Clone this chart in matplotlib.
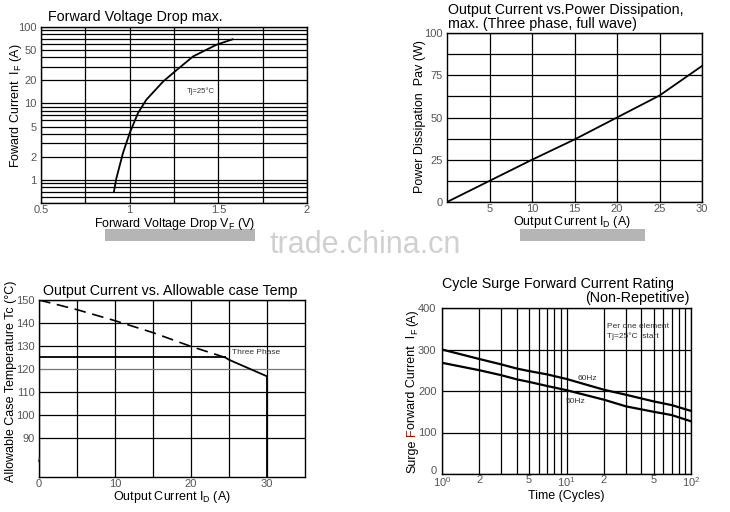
import matplotlib
matplotlib.use("Agg")
import matplotlib.pyplot as plt
from matplotlib.patches import Rectangle
from matplotlib.ticker import FixedLocator, NullFormatter, NullLocator

plt.rcParams['font.family'] = ['Liberation Sans', 'DejaVu Sans']
plt.rcParams['mathtext.fontset'] = 'custom'
plt.rcParams['mathtext.rm'] = 'Liberation Sans'

# ---------------- data ----------------
# Chart 1: forward voltage drop
fv_volt = [0.911, 0.925, 0.962, 1.0, 1.047, 1.094, 1.189, 1.255, 1.358, 1.49, 1.58]
fv_curr = [0.70, 1.05, 2.24, 4.1, 7.5, 11.2, 19.4, 26.2, 41.3, 58.7, 69.0]
fv_yticks = [1, 2, 5, 10, 20, 50, 100]
fv_xticks = [0.5, 1, 1.5, 2]

# Chart 2: power dissipation
pd_curr = [0, 5, 10, 15, 20, 25, 30]
pd_watt = [0, 12.5, 25, 37, 50, 63, 80.5]
pd_xticks = [5, 10, 15, 20, 25, 30]
pd_yticks = [0, 25, 50, 75, 100]

# Chart 3: allowable case temperature
tc_dash_curr = [0, 5, 10, 15, 20, 24.5]
tc_dash_temp = [150, 145.8, 141, 135.8, 129.8, 125]
tc_solid_curr = [24.5, 25, 30, 30]
tc_solid_temp = [125, 124, 116.8, 73]
tc_flat_curr = [0, 24.5]
tc_flat_temp = [125, 125]
tc_xticks = [0, 10, 20, 30]
tc_yticks = [90, 100, 110, 120, 130, 140, 150]

# Chart 4: surge current
cycles = [1, 2, 3, 4, 5, 7, 10, 20, 30, 50, 70, 100]
surge_60hz = [300, 277, 264, 254, 248, 240, 229, 203, 191, 175, 166, 152]
surge_50hz = [268, 250, 238, 228, 222, 212, 202, 179, 163, 150, 142, 127]
sg_xticks = [1, 2, 5, 10, 20, 50, 100]
sg_xlabels = ['$10^0$', '2', '5', '$10^1$', '2', '5', '$10^2$']
sg_yticks = [0, 100, 200, 300, 400]

W, H = 730, 512
fig = plt.figure(figsize=(W / 100, H / 100), dpi=100)


def ax_px(x0, y0, x1, y1):
    return fig.add_axes([x0 / W, 1 - y1 / H, (x1 - x0) / W, (y1 - y0) / H])


def fpx(x, y):
    return x / W, 1 - y / H


TICKC = '#555555'
TITLE_FS = 10.3
LABEL_FS = 9


def style(ax):
    for s in ax.spines.values():
        s.set_color('black')
        s.set_linewidth(1.0)
    ax.tick_params(which='both', length=0, labelsize=8, colors=TICKC, pad=3)
    ax.tick_params(axis='x', pad=1.5)


def vlabel(x, y, s):
    fig.text(*fpx(x, y), s, fontsize=LABEL_FS, rotation=90, ha='center', va='center')


# ---------------- Chart 1 ----------------
ax1 = ax_px(41, 27, 307, 203)
ax1.set_yscale('log')
ax1.set_xlim(0.5, 2)
ax1.set_ylim(0.5, 100)
ax1.yaxis.set_major_locator(FixedLocator(fv_yticks))
ax1.set_yticklabels([str(v) for v in fv_yticks])
ax1.yaxis.set_minor_locator(FixedLocator([k * 10 ** e for e in (-1, 0, 1) for k in range(1, 10)]))
ax1.yaxis.set_minor_formatter(NullFormatter())
ax1.set_xticks(fv_xticks)
ax1.set_xticklabels(['0.5', '1', '1.5', '2'])
ax1.xaxis.set_minor_locator(FixedLocator([0.75, 1.25, 1.75]))
ax1.grid(True, which='both', color='black', linewidth=0.9)
style(ax1)
ax1.plot(fv_volt, fv_curr, color='black', linewidth=1.3)
ax1.text(1.32, 14.4, 'Tj=25°C', fontsize=5.5, color='#333333', va='center')
vlabel(16, 106, 'Foward Current  I$_\\mathrm{F}$ (A)')
fig.text(*fpx(48, 17), 'Forward Voltage Drop max.', fontsize=TITLE_FS, va='center', ha='left')
fig.text(*fpx(175, 224), 'Forward Voltage Drop V$_\\mathrm{F}$ (V)', fontsize=LABEL_FS, va='center', ha='center')

# ---------------- Chart 2 ----------------
ax2 = ax_px(447, 33, 702, 202)
ax2.set_xlim(0, 30)
ax2.set_ylim(0, 100)
ax2.set_xticks(pd_xticks)
ax2.set_yticks(pd_yticks)
ax2.xaxis.set_minor_locator(NullLocator())
ax2.yaxis.set_minor_locator(FixedLocator([12.5, 37.5, 62.5, 87.5]))
ax2.grid(True, which='both', color='black', linewidth=0.9)
style(ax2)
ax2.plot(pd_curr, pd_watt, color='black', linewidth=1.3)
vlabel(420, 117, 'Power Dissipation  Pav (W)')
fig.text(*fpx(572, 222), 'Output Current I$_\\mathrm{D}$ (A)', fontsize=LABEL_FS, va='center', ha='center')
fig.text(*fpx(448, 10), 'Output Current vs.Power Dissipation,', fontsize=TITLE_FS, va='center', ha='left')
fig.text(*fpx(448, 24), 'max. (Three phase, full wave)', fontsize=TITLE_FS, va='center', ha='left')

# ---------------- Chart 3 ----------------
ax3 = ax_px(39, 300, 305, 477)
ax3.set_xlim(0, 35)
ax3.set_ylim(73, 150)
ax3.set_xticks(tc_xticks)
ax3.set_yticks(tc_yticks)
ax3.xaxis.set_minor_locator(FixedLocator([5, 15, 25]))
ax3.grid(True, which='both', color='black', linewidth=0.9)
for gl, v in zip(ax3.get_ygridlines(), tc_yticks):
    if v == 120:
        gl.set_color('#777777')
style(ax3)
ax3.plot(tc_dash_curr, tc_dash_temp, color='black', linewidth=1.2, linestyle=(0, (7, 4)))
ax3.plot(tc_solid_curr, tc_solid_temp, color='black', linewidth=1.3)
ax3.plot(tc_flat_curr, tc_flat_temp, color='black', linewidth=1.3)
ax3.text(25.4, 127.3, 'Three Phase', fontsize=6, color='#333333', va='center')
ax3.text(0.2, 81, '~', fontsize=8, rotation=90, ha='center', va='center', color='#333333')
vlabel(11, 381, 'Allowable Case Temperature Tc (°C)')
fig.text(*fpx(172, 497), 'Output Current I$_\\mathrm{D}$ (A)', fontsize=LABEL_FS, va='center', ha='center')
fig.text(*fpx(170, 291), 'Output Current vs. Allowable case Temp', fontsize=TITLE_FS, va='center', ha='center')

# ---------------- Chart 4 ----------------
ax4 = ax_px(442, 308, 691, 474)
ax4.set_xscale('log')
ax4.set_xlim(1, 100)
ax4.set_ylim(0, 400)
ax4.xaxis.set_major_locator(FixedLocator(sg_xticks))
ax4.set_xticklabels(sg_xlabels)
ax4.xaxis.set_minor_locator(FixedLocator([k * 10 ** e for e in (0, 1) for k in range(2, 10)]))
ax4.xaxis.set_minor_formatter(NullFormatter())
ax4.set_yticks(sg_yticks)
ax4.grid(True, which='both', color='black', linewidth=0.9)
style(ax4)
ax4.tick_params(axis='x', which='both', length=0, pad=1)
ax4.tick_params(axis='y', pad=4)
ax4.get_yticklabels()[0].set_verticalalignment('baseline')
ax4.plot(cycles, surge_60hz, color='black', linewidth=1.6)
ax4.plot(cycles, surge_50hz, color='black', linewidth=1.6)
ax4.text(14.6, 231, '60Hz', fontsize=6, color='#333333', va='center', ha='center')
ax4.text(11.8, 174, '50Hz', fontsize=6, color='#333333', va='center', ha='center')
ax4.text(21.3, 355, 'Per one element', fontsize=6, color='#333333', va='center')
ax4.text(21.3, 333, 'Tj=25°C  start', fontsize=6, color='#333333', va='center')
fig.text(*fpx(566, 496), 'Time (Cycles)', fontsize=LABEL_FS, va='center', ha='center')
fig.text(*fpx(442, 284), 'Cycle Surge Forward Current Rating', fontsize=TITLE_FS, va='center', ha='left')
fig.text(*fpx(690, 298), '(Non-Repetitive)', fontsize=TITLE_FS, va='center', ha='right')

# two-colour y label for chart 4, built from rotated plain-text pieces
r = fig.canvas.get_renderer()


def width_of(s, fs):
    t = fig.text(0, 0, s, fontsize=fs)
    w = t.get_window_extent(r).width
    t.remove()
    return w


def advance(s, fs):
    return width_of('x' + s + 'x', fs) - 2 * width_of('x', fs)


# (leading gap text, text, fontsize, colour, sideways shift in px: + = subscript)
sg_parts = [('', 'Surge', LABEL_FS, 'black', 0), (' ', 'F', LABEL_FS, '#8b1a00', 0),
            ('', 'orward Current  I', LABEL_FS, 'black', 0), ('', 'F', 6.3, 'black', 2.5),
            (' ', '(A)', LABEL_FS, 'black', 0)]
gaps = [advance(g, LABEL_FS) if g else 0 for g, _, _, _, _ in sg_parts]
advs = [advance(s, fs) for _, s, fs, _, _ in sg_parts]
lx, ly = 412, 391
pos = (H - ly) - (sum(gaps) + sum(advs)) / 2
for (g, s, fs, c, dx), gp, a in zip(sg_parts, gaps, advs):
    pos += gp
    fig.text((lx + dx) / W, pos / H, s, fontsize=fs, rotation=90,
             ha='center', va='bottom', color=c)
    pos += a

# ---------------- watermark ----------------
fig.text(*fpx(365, 245), 'trade.china.cn', fontsize=22, color='#d0d0d0', ha='center', va='center')
for x0, w in ((105, 150), (520, 125)):
    fig.patches.append(Rectangle((x0 / W, 1 - 241 / H), w / W, 12 / H, transform=fig.transFigure,
                                 facecolor='#a8a8a8', edgecolor='none', alpha=0.85))

fig.savefig('out.png', dpi=100)
